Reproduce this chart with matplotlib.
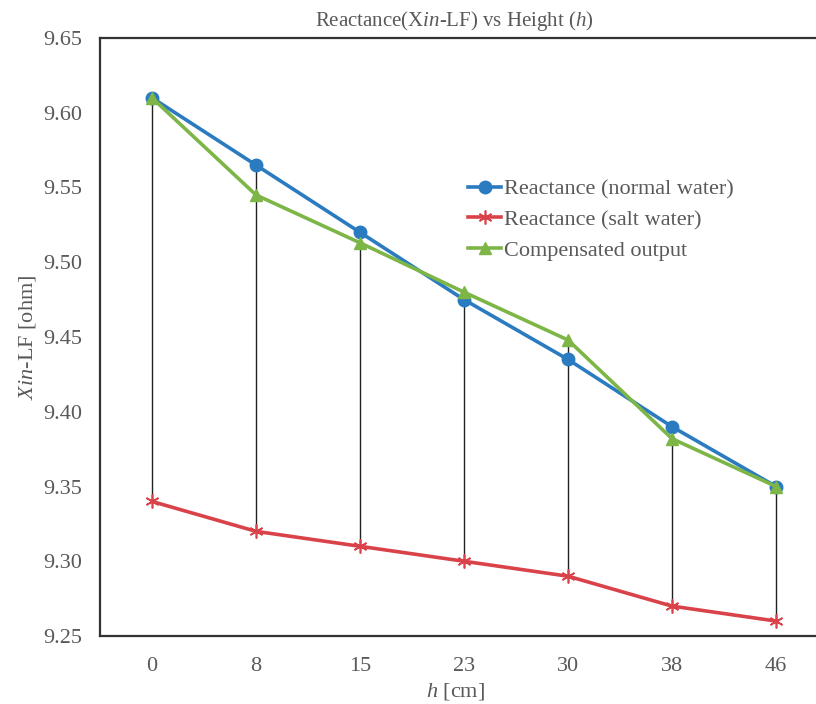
import matplotlib
matplotlib.use("Agg")
import matplotlib.pyplot as plt
import numpy as np

heights = ["0", "8", "15", "23", "30", "38", "46"]
normal_water = [9.610, 9.565, 9.520, 9.475, 9.435, 9.390, 9.350]
salt_water = [9.340, 9.320, 9.310, 9.300, 9.290, 9.270, 9.260]
compensated = [9.610, 9.545, 9.513, 9.480, 9.448, 9.382, 9.350]
y_ticks = [9.25, 9.30, 9.35, 9.40, 9.45, 9.50, 9.55, 9.60, 9.65]

plt.rcParams["font.family"] = ["Liberation Serif", "DejaVu Serif"]
plt.rcParams["mathtext.fontset"] = "custom"
plt.rcParams["mathtext.rm"] = "Liberation Serif"
plt.rcParams["mathtext.it"] = "Liberation Serif:italic"

text_col = "#595959"
blue = "#2A7BC0"
red = "#DA4249"
green = "#7DB646"

fig = plt.figure(figsize=(8.16, 7.04), dpi=100)
ax = fig.add_axes([100 / 816, 1 - 636 / 704, 1 - 100 / 816, (636 - 38) / 704])

x = np.arange(len(heights))
top = np.maximum(normal_water, compensated)
ax.vlines(x, salt_water, top, colors="#222222", linewidth=1.0, zorder=1)

ax.plot(x, normal_water, color=blue, linewidth=2.6, marker="o", markersize=9,
        label="Reactance (normal water)", zorder=3)
ax.plot(x, salt_water, color=red, linewidth=2.6, marker=(6, 2, 0), markersize=10,
        markeredgewidth=1.2, label="Reactance (salt water)", zorder=3)
ax.plot(x, compensated, color=green, linewidth=2.6, marker="^", markersize=9,
        label="Compensated output", zorder=4)

ax.set_xlim(-0.5, 6.5 - 12 / 104)
ax.set_ylim(9.25, 9.65)
ax.set_xticks(x)
ax.set_xticklabels(heights)
ax.set_yticks(y_ticks)
ax.set_yticklabels([f"{v:.2f}" for v in y_ticks])
ax.tick_params(axis="both", length=0, labelsize=16, colors=text_col)
ax.tick_params(axis="x", pad=15)
ax.tick_params(axis="y", pad=13)

for s in ["left", "bottom", "top"]:
    ax.spines[s].set_color("#333333")
    ax.spines[s].set_linewidth(1.6)
ax.spines["right"].set_visible(False)

ax.set_ylabel(r"$\mathit{Xin}$-LF [ohm]", fontsize=16, color=text_col)
ax.yaxis.set_label_coords(-62 / 716, 0.5)
ax.set_xlabel(r"$\mathit{h}$ [cm]", fontsize=16, color=text_col)
ax.xaxis.set_label_coords((456 - 100) / 716, -45 / 598)

fig.text(454 / 816, 1 - 21 / 704, r"Reactance(X$\mathit{in}$-LF) vs Height ($\mathit{h}$)",
         ha="center", va="center", fontsize=15, color=text_col)

leg = ax.legend(loc="upper left", bbox_to_anchor=((468 - 100) / 716, (636 - 179) / 598),
                frameon=False, fontsize=16, handlelength=1.5, handletextpad=0.1,
                labelspacing=0.45, borderaxespad=0, borderpad=0)
for t in leg.get_texts():
    t.set_color(text_col)

fig.savefig("out.png", dpi=100)
